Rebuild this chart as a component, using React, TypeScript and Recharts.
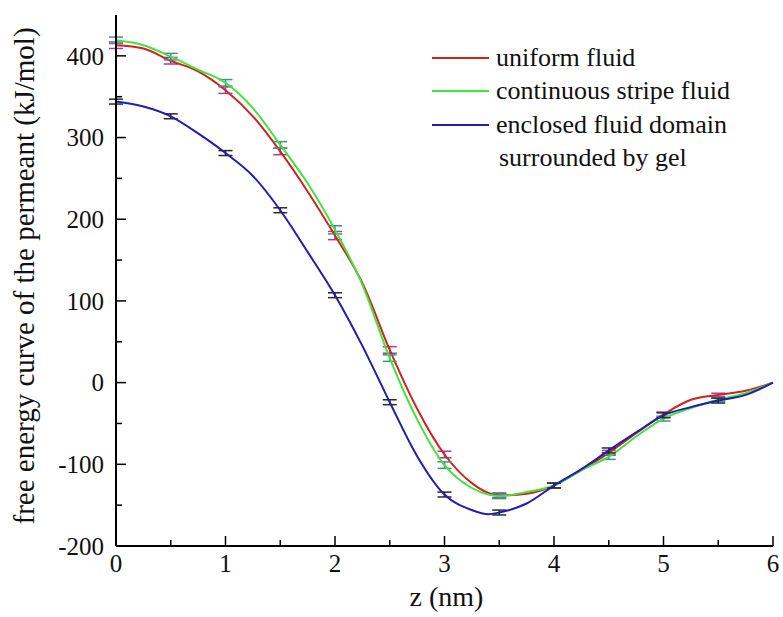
import { LineChart, Line, XAxis, YAxis, ErrorBar, Legend } from 'recharts';

// z positions sampled along the curves (nm)
const zValues = [0, 0.25, 0.5, 0.75, 1, 1.25, 1.5, 1.75, 2, 2.25, 2.5, 2.75, 3, 3.25, 3.4, 3.5, 3.75, 4, 4.25, 4.5, 4.75, 5, 5.25, 5.5, 5.75, 6];

// free energy (kJ/mol)
const uniformFluid = [413, 409, 394, 381, 358, 326, 283, 234, 180, 122, 40, -32, -88, -123, -135, -138, -136, -126, -107, -86, -62, -39, -21, -15, -10, 0];
const stripeFluid = [419, 413, 399, 383, 367, 336, 291, 244, 187, 120, 30, -45, -101, -129, -137, -139, -134, -126, -107, -91, -66, -44, -31, -21, -13, 0];
const enclosedDomain = [344, 338, 326, 305, 281, 253, 211, 160, 107, 45, -24, -90, -137, -156, -161, -159, -148, -126, -106, -83, -61, -40, -30, -22, -15, 0];

// error bars, only every 0.5 nm
const errZ = [0, 0.5, 1, 1.5, 2, 2.5, 3, 3.5, 4, 4.5, 5, 5.5, 6];
const uniformErr = [4, 4, 4, 4, 5, 4, 4, 3, 3, 3, 3, 2, 0];
const stripeErr = [4, 4, 4, 4, 5, 4, 4, 3, 3, 3, 3, 2, 0];
const enclosedErr = [3, 3, 3, 3, 3, 3, 3, 3, 3, 3, 3, 3, 0];

const xTicks = [0, 0.5, 1, 1.5, 2, 2.5, 3, 3.5, 4, 4.5, 5, 5.5, 6];
const yTicks = [-200, -150, -100, -50, 0, 50, 100, 150, 200, 250, 300, 350, 400];

const FONT = 'Liberation Serif, Tinos, DejaVu Serif, Times New Roman, serif';

const series = [
  { key: 'red', name: 'uniform fluid', color: '#d3211f', errColor: '#a2409f' },
  { key: 'green', name: 'continuous stripe fluid', color: '#3fe43c', errColor: '#4a8c8f' },
  { key: 'blue', name: 'enclosed fluid domain', color: '#1e1fae', errColor: '#2a2a2a' },
];

const data = zValues.map((z, i) => {
  const j = errZ.indexOf(z);
  return {
    z,
    red: uniformFluid[i],
    green: stripeFluid[i],
    blue: enclosedDomain[i],
    redErr: j >= 0 ? uniformErr[j] : null,
    greenErr: j >= 0 ? stripeErr[j] : null,
    blueErr: j >= 0 ? enclosedErr[j] : null,
  };
});

const BottomTick = ({ x, y, payload }: any) => {
  const major = Number.isInteger(payload.value);
  return (
    <g>
      <line x1={x} y1={y} x2={x} y2={y - (major ? 10 : 6)} stroke="#000" strokeWidth={1.5} />
      {major && (
        <text x={x} y={y + 26} textAnchor="middle" fontSize={25} style={{ fontFamily: FONT }} fill="#111">
          {payload.value}
        </text>
      )}
    </g>
  );
};

const TopTick = ({ x, y, payload }: any) => {
  const major = Number.isInteger(payload.value);
  return <line x1={x} y1={y} x2={x} y2={y + (major ? 10 : 6)} stroke="#000" strokeWidth={1.5} />;
};

const LeftTick = ({ x, y, payload }: any) => {
  const major = payload.value % 100 === 0;
  return (
    <g>
      <line x1={x} y1={y} x2={x + (major ? 10 : 6)} y2={y} stroke="#000" strokeWidth={1.5} />
      {major && (
        <text x={x - 12} y={y} dy="0.35em" textAnchor="end" fontSize={25} style={{ fontFamily: FONT }} fill="#111">
          {payload.value}
        </text>
      )}
    </g>
  );
};

const RightTick = ({ x, y, payload }: any) => {
  const major = payload.value % 100 === 0;
  return <line x1={x} y1={y} x2={x - (major ? 10 : 6)} y2={y} stroke="#000" strokeWidth={1.5} />;
};

const YLabel = ({ viewBox }: any) => {
  const cx = viewBox.x + 24;
  const cy = 276;
  return (
    <text x={cx} y={cy} transform={`rotate(-90, ${cx}, ${cy})`} textAnchor="middle" dy="0.35em" fontSize={29} style={{ fontFamily: FONT }} fill="#111">
      free energy curve of the permeant (kJ/mol)
    </text>
  );
};

const XLabel = ({ viewBox }: any) => (
  <text x={viewBox.x + viewBox.width / 2 + 2} y={viewBox.y + 60} textAnchor="middle" fontSize={28} style={{ fontFamily: FONT }} fill="#111">
    z (nm)
  </text>
);

const LegendBox = () => (
  <div style={{ fontFamily: FONT, fontSize: 26, color: '#111' }}>
    {series.map(s => (
      <div key={s.key} style={{ display: 'flex', alignItems: 'center', height: 33.5, whiteSpace: 'nowrap' }}>
        <div style={{ width: 57, height: 2, background: s.color, marginRight: 7 }} />
        <span>{s.name}</span>
      </div>
    ))}
    <div style={{ height: 33.5, display: 'flex', alignItems: 'center', paddingLeft: 67, whiteSpace: 'nowrap' }}>
      surrounded by gel
    </div>
  </div>
);

export default function App() {
  return (
    <div style={{ position: 'absolute', left: 0, top: 0, background: '#fff' }}>
      <LineChart width={783} height={617} data={data} margin={{ top: 15, right: 10, left: 0, bottom: 0 }}>
        <XAxis
          xAxisId="bottom"
          dataKey="z"
          type="number"
          domain={[0, 6]}
          ticks={xTicks}
          interval={0}
          height={71}
          tickSize={0}
          tickMargin={0}
          tickLine={false}
          tick={<BottomTick />}
          axisLine={{ stroke: '#000', strokeWidth: 2 }}
          label={<XLabel />}
        />
        <XAxis
          xAxisId="top"
          orientation="top"
          dataKey="z"
          type="number"
          domain={[0, 6]}
          ticks={xTicks}
          interval={0}
          height={0}
          tickSize={0}
          tickMargin={0}
          tickLine={false}
          tick={<TopTick />}
          axisLine={{ stroke: '#000', strokeWidth: 2 }}
        />
        <YAxis
          yAxisId="left"
          type="number"
          domain={[-200, 450]}
          ticks={yTicks}
          interval={0}
          width={116}
          tickSize={0}
          tickMargin={0}
          tickLine={false}
          tick={<LeftTick />}
          axisLine={{ stroke: '#000', strokeWidth: 2 }}
          label={<YLabel />}
        />
        <YAxis
          yAxisId="right"
          orientation="right"
          type="number"
          domain={[-200, 450]}
          ticks={yTicks}
          interval={0}
          width={0}
          tickSize={0}
          tickMargin={0}
          tickLine={false}
          tick={<RightTick />}
          axisLine={{ stroke: '#000', strokeWidth: 2 }}
        />
        <Legend
          layout="vertical"
          align="center"
          verticalAlign="middle"
          wrapperStyle={{ left: 432, top: 41, width: 'auto' }}
          content={<LegendBox />}
        />
        <Line
          xAxisId="top"
          yAxisId="right"
          dataKey="red"
          stroke="none"
          dot={false}
          activeDot={false}
          legendType="none"
          isAnimationActive={false}
        />
        {series.map(s => (
          <Line
            key={s.key}
            xAxisId="bottom"
            yAxisId="left"
            type="monotone"
            dataKey={s.key}
            name={s.name}
            stroke={s.color}
            strokeWidth={2}
            dot={false}
            activeDot={false}
            isAnimationActive={false}
          >
            <ErrorBar dataKey={`${s.key}Err`} direction="y" width={7} stroke={s.errColor} strokeWidth={1.5} />
          </Line>
        ))}
      </LineChart>
    </div>
  );
}
